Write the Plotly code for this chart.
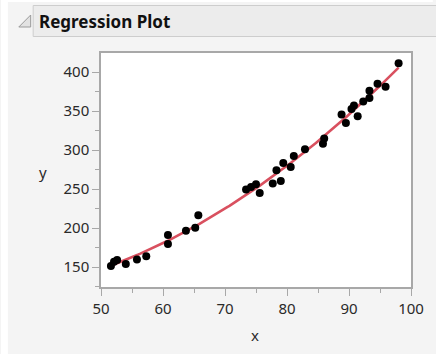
import numpy as np
import plotly.graph_objects as go

# Observed data
x_vals = [51.6, 52.1, 52.6, 54.0, 55.8, 57.3, 60.8, 60.8, 63.7, 65.2,
          65.7, 73.4, 74.2, 75.0, 75.6, 77.7, 78.3, 79.0, 79.4, 80.6,
          81.1, 82.9, 85.8, 86.0, 88.8, 89.5, 90.4, 90.8, 91.4, 92.3,
          93.3, 93.3, 94.6, 95.9, 98.0]
y_vals = [151.3, 156.8, 159.0, 153.8, 159.8, 163.7, 179.4, 191.0, 196.4, 200.3,
          216.5, 249.4, 252.7, 256.1, 245.0, 257.0, 274.0, 260.4, 283.4, 278.3,
          292.3, 300.9, 308.0, 314.8, 345.5, 334.6, 352.5, 357.2, 343.3, 362.3,
          366.8, 376.0, 385.0, 381.0, 411.3]

x_ticks = [50, 60, 70, 80, 90, 100]
y_ticks = [150, 200, 250, 300, 350, 400]

# Quadratic least-squares fit through the observations
coef = np.polyfit(x_vals, y_vals, 2)
x_fit = np.linspace(min(x_vals), max(x_vals), 200)
y_fit = np.polyval(coef, x_fit)

W, H = 436, 354
L, R, T, B = 101, 22, 53, 67
pw, ph = W - L - R, H - T - B


def px(xp):
    return (xp - L) / pw


def py(yp):
    return (H - B - yp) / ph


fig = go.Figure()
fig.add_trace(go.Scatter(x=x_fit, y=y_fit, mode="lines",
                         line=dict(color="#d9505f", width=2.6),
                         hoverinfo="skip", showlegend=False))
fig.add_trace(go.Scatter(x=x_vals, y=y_vals, mode="markers",
                         marker=dict(color="black", size=8),
                         showlegend=False))

axis_common = dict(
    showgrid=False, zeroline=False, showline=True, mirror=True,
    linecolor="#a8a8a8", linewidth=1.5,
    ticks="outside", ticklen=7, tickwidth=1.3, tickcolor="#a8a8a8",
    tickfont=dict(family="Noto Sans", size=15, color="#2a2a2a"),
)

fig.update_xaxes(range=[50, 100], tickvals=x_ticks, **axis_common,
                 minor=dict(dtick=5, ticks="outside", ticklen=4,
                            tickcolor="#a8a8a8", tickwidth=1.3))
fig.update_yaxes(range=[124.4, 424.4], tickvals=y_ticks, **axis_common,
                 minor=dict(dtick=25, ticks="outside", ticklen=4,
                            tickcolor="#a8a8a8", tickwidth=1.3))

shapes = [
    # white strips at the window edges
    dict(type="rect", xref="paper", yref="paper", x0=px(0), x1=px(7), y0=py(H), y1=py(0),
         fillcolor="white", line=dict(width=0), layer="below"),
    dict(type="rect", xref="paper", yref="paper", x0=px(0), x1=px(W), y0=py(2), y1=py(0),
         fillcolor="white", line=dict(width=0), layer="below"),
    # outline header bar
    dict(type="rect", xref="paper", yref="paper", x0=px(32.5), x1=px(W + 5), y0=py(36.5), y1=py(5.5),
         fillcolor="#ececec", line=dict(color="#cdcdcd", width=1), layer="below"),
    # disclosure triangle
    dict(type="path", xref="paper", yref="paper",
         path=f"M {px(18)} {py(27)} L {px(30)} {py(27)} L {px(30)} {py(15)} Z",
         fillcolor="#e2e2e2", line=dict(color="#9a9a9a", width=1)),
]

annotations = [
    dict(text="<b>Regression Plot</b>", xref="paper", yref="paper",
         x=px(36.5), y=py(21), xanchor="left", yanchor="middle", showarrow=False,
         font=dict(family="Noto Sans", size=17, color="#111111")),
    dict(text="y", xref="paper", yref="paper", x=px(42), y=py(172),
         xanchor="center", yanchor="middle", showarrow=False,
         font=dict(family="Noto Sans", size=15, color="#2a2a2a")),
    dict(text="x", xref="paper", yref="paper", x=px(256), y=py(335),
         xanchor="center", yanchor="middle", showarrow=False,
         font=dict(family="Noto Sans", size=15, color="#2a2a2a")),
]

fig.update_layout(
    width=W, height=H,
    margin=dict(l=L, r=R, t=T, b=B, pad=0),
    paper_bgcolor="#f4f4f4", plot_bgcolor="white",
    shapes=shapes, annotations=annotations,
    showlegend=False,
)

fig.write_html("out.html")
